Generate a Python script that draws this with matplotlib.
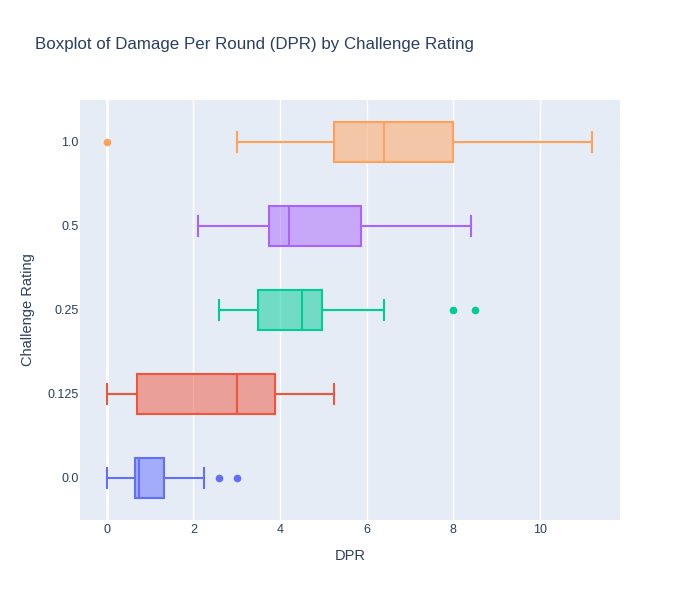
import matplotlib
matplotlib.use("Agg")
import matplotlib.pyplot as plt

plt.rcParams['font.family'] = ['Liberation Sans', 'DejaVu Sans']

# Challenge ratings (bottom to top) and box statistics
ratings = ["0.0", "0.125", "0.25", "0.5", "1.0"]
whislo = [0.0, 0.0, 2.6, 2.1, 3.0]
q1 = [0.64, 0.69, 3.5, 3.74, 5.25]
med = [0.75, 3.0, 4.5, 4.2, 6.4]
q3 = [1.32, 3.88, 4.96, 5.87, 8.0]
whishi = [2.25, 5.25, 6.4, 8.4, 11.2]
fliers = [[2.6, 3.0], [], [8.0, 8.5], [], [0.0]]
colors = ["#636efa", "#EF553B", "#00cc96", "#ab63fa", "#FFA15A"]

text_color = "#2a3f5f"

fig = plt.figure(figsize=(7, 6), dpi=100)
ax = fig.add_axes([80 / 700, 80 / 600, 540 / 700, 420 / 600])
ax.set_facecolor("#E5ECF6")

for i, name in enumerate(ratings):
    stats = [dict(label=name, whislo=whislo[i], q1=q1[i], med=med[i],
                  q3=q3[i], whishi=whishi[i], fliers=fliers[i])]
    c = colors[i]
    ax.bxp(stats, positions=[i], widths=0.48, capwidths=0.24, vert=False,
           patch_artist=True, manage_ticks=False,
           boxprops=dict(facecolor=c + "80", edgecolor=c, linewidth=1.5),
           medianprops=dict(color=c, linewidth=1.5),
           whiskerprops=dict(color=c, linewidth=1.5),
           capprops=dict(color=c, linewidth=1.5),
           flierprops=dict(marker="o", markersize=4.5, markerfacecolor=c,
                           markeredgecolor=c))

ax.set_xlim(-0.62, 11.85)
ax.set_ylim(-0.5, 4.5)
ax.set_xticks(range(0, 12, 2))
ax.set_yticks(range(len(ratings)))
ax.set_yticklabels(ratings)

ax.grid(axis="x", color="white", linewidth=1.0)
ax.axvline(0, color="white", linewidth=1.8, zorder=0.6)
ax.set_axisbelow(True)
for s in ax.spines.values():
    s.set_visible(False)
ax.tick_params(length=0, labelsize=9, colors=text_color)
ax.tick_params(axis="y", pad=1)
ax.tick_params(axis="x", pad=3)

ax.set_xlabel("DPR", fontsize=10.5, color=text_color, labelpad=9)
ax.set_ylabel("Challenge Rating", fontsize=10.5, color=text_color, labelpad=9)

fig.text(35 / 700, 1 - 45 / 600,
         "Boxplot of Damage Per Round (DPR) by Challenge Rating",
         fontsize=12.2, color=text_color, va="center", ha="left")

fig.savefig("out.png", dpi=100)
